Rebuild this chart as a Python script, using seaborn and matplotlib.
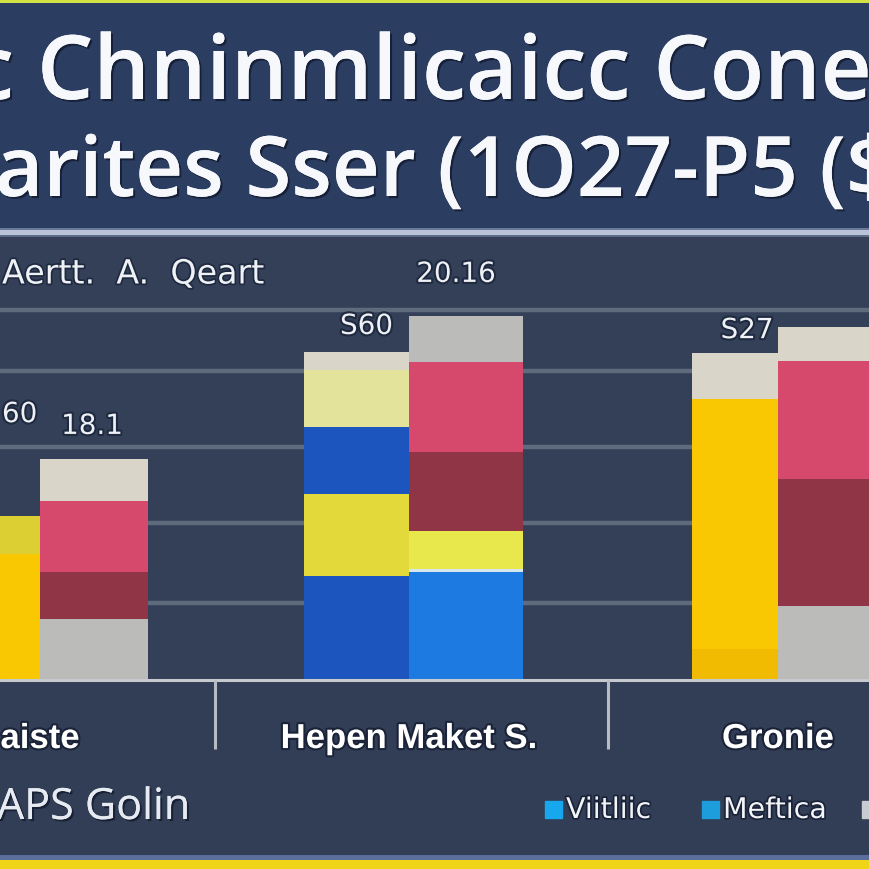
import matplotlib
matplotlib.use("Agg")
import matplotlib.pyplot as plt
import matplotlib.patheffects as pe
from matplotlib.patches import Rectangle
import seaborn as sns

# ---------------- data ----------------
categories = ["aiste", "Hepen Maket S.", "Gronie"]
series = ["Series A", "Series B"]

# stacked segment values (bottom -> top) for each category / series
cat1_a = [32.9, 10.0]
cat1_b = [15.8, 12.4, 18.7, 11.1]
cat2_a = [27.1, 21.6, 17.6, 15.0, 4.7]
cat2_b = [28.2, 0.8, 10.0, 20.8, 23.7, 12.1]
cat3_a = [7.9, 65.8, 12.1]
cat3_b = [19.2, 33.4, 31.1, 8.9]

value_labels = ["60", "18.1", "S60", "20.16", "S27", ""]
grid_levels = [20, 41, 61, 81, 97]
title_lines = ["c Chninmlicaicc Conet", "arites Sser (1O27-P5 ($"]
chart_label = "Aertt.  A.  Qeart"
footer_text = "APS Golin"
legend_labels = ["Viitliic", "Meftica", "Gonie"]

# ---------------- style ----------------
GOLD, GOLD_D, OLIVE = "#f9c802", "#f0bb00", "#dccf34"
CREAM, PALE, GREY = "#d9d6c9", "#e3e39b", "#bbbbb9"
BLUE, BBLUE, YEL, LIME = "#1b55bd", "#1c7ae0", "#e3d93a", "#e8e84c"
PINK, DRED, LINE = "#d7486d", "#8f3546", "#d8e6ee"

bars = [
    (categories[0], series[0], cat1_a, [GOLD, OLIVE]),
    (categories[0], series[1], cat1_b, [GREY, DRED, PINK, CREAM]),
    (categories[1], series[0], cat2_a, [BLUE, YEL, BLUE, PALE, CREAM]),
    (categories[1], series[1], cat2_b, [BBLUE, LINE, LIME, DRED, PINK, GREY]),
    (categories[2], series[0], cat3_a, [GOLD_D, GOLD, CREAM]),
    (categories[2], series[1], cat3_b, [GREY, DRED, PINK, CREAM]),
]
# group widths used for each bar (dodged pair width), layout only
bar_widths = [0.60, 0.585, 0.569, 0.618, 0.466, 0.60]
# label placement relative to bar tops (data units) and horizontal shift (px)
label_gap = [26.8, 8.6, 6.9, 11.0, 6.0, 0]
label_dx = [35, -2, 10, -10, 12, 0]

W = H = 870
sns.set_theme(style="dark")
plt.rcParams["font.family"] = ["DejaVu Sans"]

BG = "#313e56"
fig = plt.figure(figsize=(8.7, 8.7), dpi=100, facecolor=BG)


def fx(x):
    return x / W


def fy(y):
    return 1 - y / H


def band(y0, y1, color, x0=0, x1=W):
    fig.patches.append(Rectangle((fx(x0), fy(y1)), (x1 - x0) / W, (y1 - y0) / H,
                                 transform=fig.transFigure, color=color, zorder=0,
                                 linewidth=0))


band(0, 230, "#2c3d62")
band(0, 4, "#d2e242")
band(229, 231, "#6a7a98")
band(231, 236, "#b9c4d8")
band(236, 238, "#5d6c88")
band(856, 861, "#5a6e9c")
band(861, 870, "#f0d418")

shadow = [pe.withSimplePatchShadow(offset=(1.5, -1.5), shadow_rgbFace="#0e1628", alpha=0.7),
          pe.Normal()]

# title
fig.text(fx(-30), fy(100), title_lines[0], fontsize=64, family=["Open Sans", "DejaVu Sans"],
         weight="semibold", color="#f6f8fb", va="baseline", ha="left", path_effects=shadow)
fig.text(fx(-5), fy(197), title_lines[1], fontsize=60, family=["Open Sans", "DejaVu Sans"],
         weight="semibold", color="#f6f8fb", va="baseline", ha="left", path_effects=shadow)

# ---------------- chart ----------------
ax_bottom, ax_top = 680, 238
ax = fig.add_axes([0, fy(ax_bottom), 1, (ax_bottom - ax_top) / H])
ax.set_facecolor("#334058")

for (cat, ser, vals, cols), bw in zip(bars, bar_widths):
    bottom = 0.0
    for v, c in zip(vals, cols):
        sns.barplot(x=[cat], y=[v], hue=[ser], order=categories, hue_order=series,
                    palette={series[0]: c, series[1]: c}, bottom=bottom, width=bw,
                    dodge=True, saturation=1, linewidth=0, legend=False,
                    errorbar=None, ax=ax, zorder=3)
        bottom += v

px_per_unit = 3.8
cat_px = 369.0
ax.set_xlim(-40 / cat_px, (W - 40) / cat_px)
ax.set_ylim(0, (ax_bottom - ax_top) / px_per_unit)

ax.set_yticks(grid_levels)
ax.yaxis.grid(True, color="#5f6a7c", linewidth=3.2)
ax.xaxis.grid(False)
ax.set_axisbelow(True)
for s in ax.spines.values():
    s.set_visible(False)
ax.tick_params(axis="y", left=False, labelleft=False)
ax.tick_params(axis="x", bottom=False, pad=25)
ax.set_xlabel("")
ax.set_ylabel("")
ax.set_xticks(range(len(categories)))
ax.set_xticklabels(categories, fontsize=25, family=["Liberation Sans", "DejaVu Sans"],
                   weight="bold", color="#ffffff")
for t in ax.get_xticklabels():
    t.set_path_effects([pe.withStroke(linewidth=3, foreground="#1a2338")])

ax.axhline(-0.35, color="#c6cacf", lw=2.2, zorder=4, clip_on=False)
ax.vlines([0.474, 1.539], -18.4, -0.3, colors="#b7bcc4", lw=2.2, clip_on=False, zorder=4)

# value labels
totals = [sum(b[2]) for b in bars]
for i, ((cat, ser, vals, cols), bw) in enumerate(zip(bars, bar_widths)):
    if not value_labels[i]:
        continue
    side = -1 if series.index(ser) == 0 else 1
    xc = categories.index(cat) + side * bw / 4 + label_dx[i] / cat_px
    ax.text(xc, totals[i] + label_gap[i], value_labels[i], ha="center", va="center",
            fontsize=20, color="#eef1f5", zorder=6,
            path_effects=[pe.withStroke(linewidth=3, foreground="#1f2a40")])

fig.text(fx(2), fy(275), chart_label, fontsize=24, color="#eef1f5", va="center",
         ha="left", path_effects=[pe.withStroke(linewidth=2.5, foreground="#1f2a40")])

# footer
fig.text(fx(-3), fy(820), footer_text, fontsize=31, family=["Open Sans", "DejaVu Sans"],
         color="#e6eaf1", va="baseline", ha="left", path_effects=shadow)

# legend
leg_x = [545, 702, 862]
leg_colors = ["#17a7ef", "#1e9ddc", "#c8ccd2"]
for x0, lab, col in zip(leg_x, legend_labels, leg_colors):
    fig.patches.append(Rectangle((fx(x0), fy(819)), 17 / W, 17 / H,
                                 transform=fig.transFigure, color=col, zorder=3))
    fig.text(fx(x0 + 21), fy(811), lab, fontsize=20.5, color="#f2f4f8", va="center",
             ha="left", path_effects=[pe.withStroke(linewidth=2.5, foreground="#1a2338")])

fig.savefig("out.png", dpi=100, facecolor=BG)
